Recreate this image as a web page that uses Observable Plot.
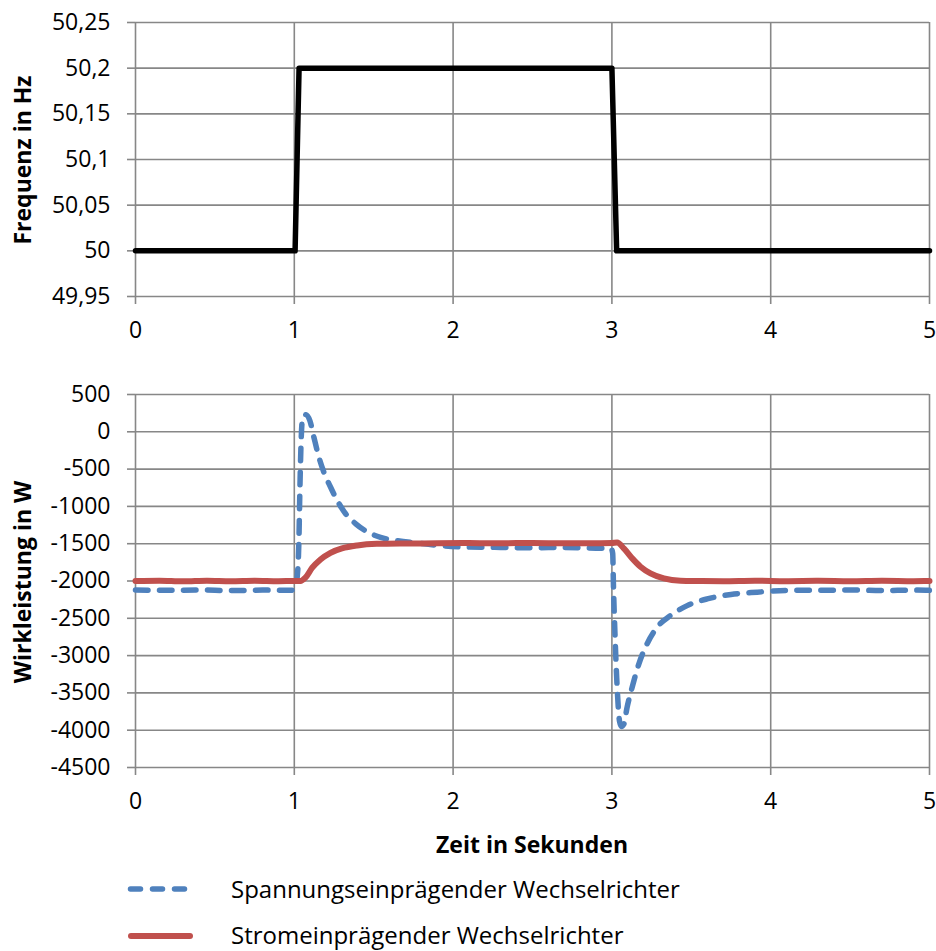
<!DOCTYPE html>
<html>
<head>
<meta charset="utf-8">
<script src="https://cdn.jsdelivr.net/npm/d3@7"></script>
<script src="https://cdn.jsdelivr.net/npm/@observablehq/plot@0.6"></script>
<style>
  html, body { margin: 0; padding: 0; background: #fff; }
  #chart { position: relative; width: 936px; height: 951px; background: #fff; font-family: "Open Sans", sans-serif; color: #000; overflow: hidden; }
  .panel { position: absolute; left: 0; }
  .ytitle { position: absolute; font-weight: bold; font-size: 23px; white-space: nowrap; transform: translate(-50%, -50%) rotate(-90deg); }
  .xtitle { position: absolute; font-weight: bold; font-size: 23px; white-space: nowrap; transform: translate(-50%, -50%); }
  .legrow { position: absolute; left: 0; height: 30px; font-size: 24px; line-height: 1; white-space: nowrap; }
  .legrow svg { position: absolute; left: 0; top: 0; }
  .legrow span { position: absolute; left: 231px; top: 50%; transform: translateY(-50%); line-height: 1.2; }
</style>
</head>
<body>
<div id="chart">
  <div id="topPanel" class="panel" style="top:0"></div>
  <div id="bottomPanel" class="panel" style="top:345px"></div>
  <div class="ytitle" id="yt1" style="left:22px; top:160px"></div>
  <div class="ytitle" id="yt2" style="left:22px; top:582px"></div>
  <div class="xtitle" id="xt" style="left:532px; top:844px"></div>
  <div class="legrow" style="top:874px; width:936px">
    <svg width="220" height="30"><line x1="130.5" x2="184.5" y1="15" y2="15" stroke="#4F81BD" stroke-width="5.5" stroke-dasharray="10,12" stroke-linecap="round"/></svg>
    <span id="leg1"></span>
  </div>
  <div class="legrow" style="top:920px; width:936px">
    <svg width="220" height="30"><line x1="131" x2="190" y1="16" y2="16" stroke="#C0504D" stroke-width="6" stroke-linecap="round"/></svg>
    <span id="leg2"></span>
  </div>
</div>
<script>
// ---- Data ----
const xTicks = [0, 1, 2, 3, 4, 5];
const freqTicks = [49.95, 50, 50.05, 50.1, 50.15, 50.2, 50.25];
const powerTicks = [-4500, -4000, -3500, -3000, -2500, -2000, -1500, -1000, -500, 0, 500];

const freqTitle = "Frequenz in Hz";
const powerTitle = "Wirkleistung in W";
const timeTitle = "Zeit in Sekunden";
const seriesNames = ["Spannungseinprägender Wechselrichter", "Stromeinprägender Wechselrichter"];

// Frequency (top panel)
const freqTime  = [0, 1.005, 1.03, 3.0, 3.03, 5];
const freqValue = [50, 50, 50.2, 50.2, 50, 50];

// Spannungseinprägender Wechselrichter (blue dashed)
const voltTime = [0, 0.2, 0.4, 0.6, 0.8, 0.98, 1.005, 1.018, 1.029, 1.035, 1.043, 1.053, 1.07, 1.098, 1.123, 1.155, 1.186, 1.228, 1.27, 1.322, 1.385, 1.459, 1.543, 1.648, 1.795, 1.94, 2.09, 2.3, 2.5, 2.7, 2.9, 2.995,
  3.005, 3.01, 3.02, 3.033, 3.048, 3.06, 3.075, 3.095, 3.128, 3.17, 3.222, 3.285, 3.37, 3.474, 3.6, 3.75, 3.915, 4.12, 4.3, 4.5, 4.7, 4.9, 5.0];
const voltPower = [-2120, -2125, -2120, -2128, -2122, -2125, -2100, -1950, -1460, -790, -120, 195, 230, 150, -70, -340, -540, -740, -920, -1095, -1230, -1340, -1415, -1460, -1495, -1530, -1545, -1550, -1555, -1550, -1560, -1565,
  -1630, -2080, -2750, -3420, -3880, -3950, -3920, -3700, -3420, -3110, -2840, -2620, -2460, -2330, -2240, -2180, -2150, -2125, -2125, -2120, -2128, -2122, -2125];

// Stromeinprägender Wechselrichter (red solid)
const currTime = [0, 0.15, 0.3, 0.45, 0.6, 0.75, 0.9, 1.0, 1.039, 1.07, 1.113, 1.165, 1.228, 1.3, 1.396, 1.52, 1.7, 1.9, 2.1, 2.3, 2.5, 2.7, 2.865, 3.0, 3.033,
  3.075, 3.128, 3.18, 3.243, 3.327, 3.432, 3.55, 3.7, 3.9, 4.1, 4.3, 4.5, 4.7, 4.9, 5.0];
const currPower = [-2000, -1995, -2005, -1997, -2003, -1996, -2002, -2000, -2000, -1956, -1822, -1711, -1622, -1563, -1523, -1502, -1497, -1495, -1492, -1494, -1490, -1495, -1493, -1490, -1485,
  -1563, -1697, -1808, -1897, -1964, -1996, -2000, -2003, -1997, -2002, -1998, -2003, -1997, -2002, -2000];

// ---- Build tables ----
const freqData = freqTime.map((t, i) => ({t, v: freqValue[i]}));
const voltData = voltTime.map((t, i) => ({t, v: voltPower[i]}));
const currData = currTime.map((t, i) => ({t, v: currPower[i]}));

const gridColor = "#878787";
const fontStyle = {fontFamily: "'Open Sans', sans-serif", fontSize: "23px", color: "#000", background: "#fff"};
const commaFmt = d => d3.format(".2~f")(d).replace(".", ",");

const gridOpts = {stroke: gridColor, strokeOpacity: 1, strokeWidth: 1.6};
const axisXOpts = {tickSize: 8, tickPadding: 17, stroke: gridColor, strokeWidth: 1.6, fill: "#000", label: null, tickFormat: d => String(d)};

const topPlot = Plot.plot({
  width: 936, height: 345,
  marginLeft: 135, marginRight: 7, marginTop: 22, marginBottom: 49,
  style: fontStyle,
  x: {domain: [0, 5]},
  y: {domain: [49.95, 50.25]},
  marks: [
    Plot.gridX(xTicks, gridOpts),
    Plot.gridY(freqTicks, gridOpts),
    Plot.axisX(xTicks, axisXOpts),
    Plot.axisY(freqTicks, {tickSize: 8, tickPadding: 17, stroke: gridColor, strokeWidth: 1.6, fill: "#000", label: null, tickFormat: commaFmt}),
    Plot.line(freqData, {x: "t", y: "v", stroke: "#000", strokeWidth: 5.5, strokeLinejoin: "round"})
  ]
});
document.getElementById("topPanel").appendChild(topPlot);

const bottomPlot = Plot.plot({
  width: 936, height: 517,
  marginLeft: 135, marginRight: 7, marginTop: 49, marginBottom: 95,
  style: fontStyle,
  x: {domain: [0, 5]},
  y: {domain: [-4500, 500]},
  marks: [
    Plot.gridX(xTicks, gridOpts),
    Plot.gridY(powerTicks, gridOpts),
    Plot.axisX(xTicks, axisXOpts),
    Plot.axisY(powerTicks, {tickSize: 8, tickPadding: 17, stroke: gridColor, strokeWidth: 1.6, fill: "#000", label: null, tickFormat: d => String(d)}),
    Plot.line(voltData, {x: "t", y: "v", stroke: "#4F81BD", strokeWidth: 5.5, strokeDasharray: "12.5,11.5", strokeLinecap: "round", strokeLinejoin: "round", curve: "monotone-x"}),
    Plot.line(currData, {x: "t", y: "v", stroke: "#C0504D", strokeWidth: 6, strokeLinecap: "round", strokeLinejoin: "round", curve: "monotone-x"})
  ]
});
document.getElementById("bottomPanel").appendChild(bottomPlot);

document.getElementById("yt1").textContent = freqTitle;
document.getElementById("yt2").textContent = powerTitle;
document.getElementById("xt").textContent = timeTitle;
document.getElementById("leg1").textContent = seriesNames[0];
document.getElementById("leg2").textContent = seriesNames[1];
</script>
</body>
</html>
